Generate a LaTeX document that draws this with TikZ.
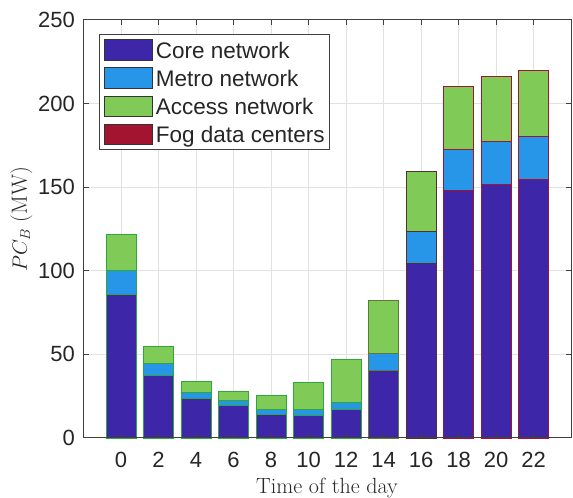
\documentclass[tikz,border=0pt]{standalone}
\usepackage{fontspec}
\usepackage{amsmath}
\usetikzlibrary{matrix,positioning,calc}
\newfontfamily\arialfont{Liberation Sans}
\definecolor{corecol}{HTML}{3E26A8}
\definecolor{metrocol}{HTML}{2896E8}
\definecolor{accesscol}{HTML}{80CA58}
\definecolor{fogcol}{HTML}{A2142F}
\definecolor{gridcol}{HTML}{E2E2E2}
\definecolor{lowedge}{HTML}{2EA83A}
\definecolor{midedge}{HTML}{5E7A35}
\definecolor{hiedge}{HTML}{5A2E2A}
\definecolor{axiscol}{HTML}{404040}
\definecolor{textcol}{HTML}{262626}
\tikzset{
  seg/.style={line width=0.9pt},
  ticklabel/.style={font=\arialfont\fontsize{22}{26}\selectfont, text=textcol, inner sep=0pt},
  axlabel/.style={font=\fontsize{22}{26}\selectfont, text=textcol, inner sep=0pt},
  legpatch/.style={draw=black!80, line width=0.8pt, minimum width=47.4pt, minimum height=20.7pt, inner sep=0pt},
  legtext/.style={anchor=west, font=\arialfont\fontsize{22.5}{26}\selectfont, text=textcol, text height=18pt, text depth=1.9pt, inner sep=0pt, minimum height=20.7pt}
}
\begin{document}
\begin{tikzpicture}[x=1pt,y=1pt]
		\useasboundingbox (0,0) rectangle (573,498);
		\begin{scope}[shift={(121,60)}, x=18.75pt, y=1.672pt]
			\foreach \t in {0,2,...,22}
				\draw[gridcol, line width=0.8pt] (\t,0) -- (\t,250);
			\foreach \v in {50,100,...,200}
				\draw[gridcol, line width=0.8pt] (-2,\v) -- (24,\v);
			\foreach \t/\c/\m/\a/\e in {0/86/100.5/122/lowedge, 2/37.7/44.7/54.7/lowedge,
					4/23.8/27.1/33.7/lowedge, 6/19.4/22.4/28.1/lowedge, 8/14.2/17.2/25.4/lowedge,
					10/13.4/17.2/33.1/lowedge, 12/17.2/21.4/46.7/lowedge, 14/40.2/50.3/82/midedge,
					16/104.2/123.6/159.5/hiedge, 18/148/172.5/210.5/fogcol,
					20/151.9/177.4/216.2/fogcol, 22/154.5/180.4/220/fogcol}
				{
					\filldraw[seg, fill=corecol, draw=\e] (\t-0.8,0) rectangle (\t+0.8,\c);
					\filldraw[seg, fill=metrocol, draw=\e] (\t-0.8,\c) rectangle (\t+0.8,\m);
					\filldraw[seg, fill=accesscol, draw=\e] (\t-0.8,\m) rectangle (\t+0.8,\a);
				}
			\draw[axiscol, line width=1pt] (-2,0) rectangle (24,250);
			\foreach \t in {0,2,...,22}
				{
					\draw[axiscol, line width=1pt] (\t,0) -- ++(0pt,5pt);
					\draw[axiscol, line width=1pt] (\t,250) -- ++(0pt,-5pt);
					\node[ticklabel, below=13.7pt] (xt\t) at (\t,0) {\t};
				}
			\foreach \v in {0,50,...,250}
				{
					\draw[axiscol, line width=1pt] (-2,\v) -- ++(5pt,0pt);
					\draw[axiscol, line width=1pt] (24,\v) -- ++(-5pt,0pt);
					\node[ticklabel, left=8.5pt] (yt\v) at (-2,\v) {\v};
				}
		\end{scope}
		\node[axlabel, anchor=base] (xlab) at (327,5) {Time of the day};
		\node[axlabel, rotate=90] (ylab) at (21.5,279) {$PC_B$ (MW)};
		\matrix (leg) [matrix of nodes, nodes in empty cells, draw=axiscol, fill=white, line width=0.8pt,
			inner sep=4.7pt, row sep=6.6pt, column sep=3.3pt, anchor=north west,
			column 1/.style={nodes={legpatch}}, column 2/.style={nodes={legtext}}] at (99.3,463.7)
		{
				|[fill=corecol]|   & Core network      \\
				|[fill=metrocol]|  & Metro network     \\
				|[fill=accesscol]| & Access network    \\
				|[fill=fogcol]|    & Fog data centers  \\
			};
	\end{tikzpicture}
\end{document}
